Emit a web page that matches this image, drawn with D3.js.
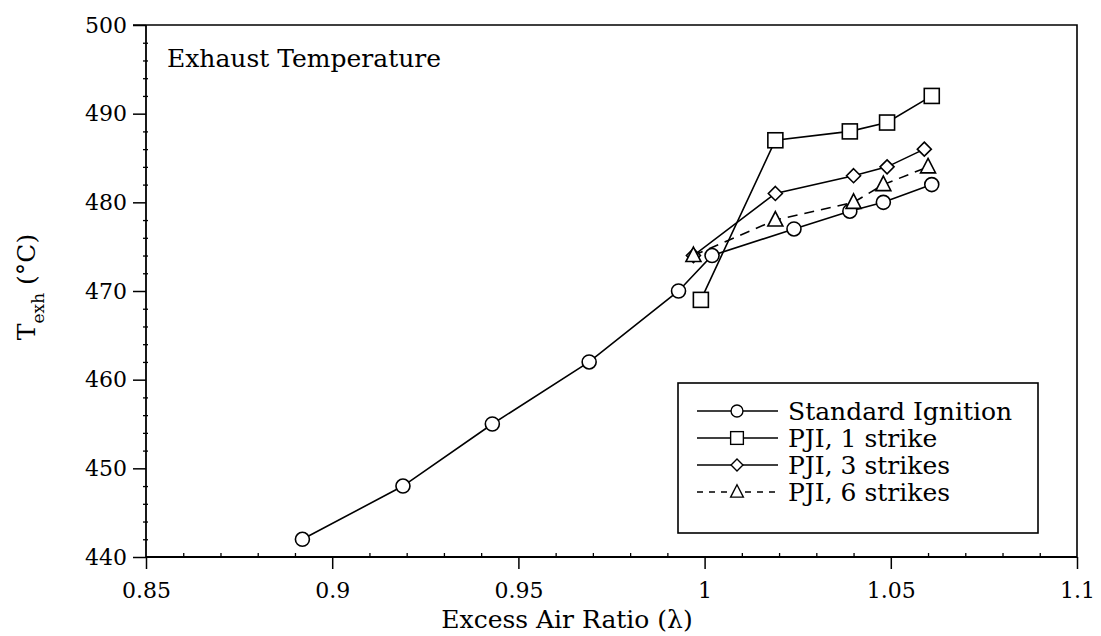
<!DOCTYPE html>
<html>
<head>
<meta charset="utf-8">
<script src="https://cdn.jsdelivr.net/npm/d3@7"></script>
<style>
  body { margin: 0; background: #fff; }
  text { font-family: "DejaVu Serif", serif; fill: #000; }
</style>
</head>
<body>
<svg id="chart" width="1101" height="636"></svg>
<script>
// data
var stdLambda = [0.892, 0.919, 0.943, 0.969, 0.993, 1.002, 1.024, 1.039, 1.048, 1.061];
var stdTemp   = [442, 448, 455, 462, 470, 474, 477, 479, 480, 482];

var s1Lambda = [0.999, 1.019, 1.039, 1.049, 1.061];
var s1Temp   = [469, 487, 488, 489, 492];

var s3Lambda = [0.997, 1.019, 1.040, 1.049, 1.059];
var s3Temp   = [474, 481, 483, 484, 486];

var s6Lambda = [0.997, 1.019, 1.040, 1.048, 1.060];
var s6Temp   = [474, 478, 480, 482, 484];

var seriesNames = ["Standard Ignition", "PJI, 1 strike", "PJI, 3 strikes", "PJI, 6 strikes"];
var xTicks = [0.85, 0.9, 0.95, 1, 1.05, 1.1];
var yTicks = [440, 450, 460, 470, 480, 490, 500];

// plot box (note: "top" is a reserved window name, so use pTop etc.)
var pLeft = 146, pRight = 1077, pTop = 25, pBottom = 557;

var svg = d3.select("#chart");

var x = d3.scaleLinear().domain([0.85, 1.1]).range([pLeft, pRight]);
var y = d3.scaleLinear().domain([440, 500]).range([pBottom, pTop]);

// frame (top and right, no ticks)
svg.append("path")
    .attr("d", "M" + (pLeft - 13) + "," + pTop + "H" + pRight + "V" + pBottom)
    .attr("fill", "none").attr("stroke", "#000").attr("stroke-width", 1.6);

// minor ticks
var xMinor = d3.range(0.85, 1.1001, 0.01).filter(function(v){ return Math.abs(v*20 - Math.round(v*20)) > 1e-6; });
var yMinor = d3.range(440, 500, 2).filter(function(v){ return v % 10 !== 0; });

svg.append("g").attr("transform", "translate(0," + pBottom + ")")
    .call(d3.axisTop(x).tickValues(xMinor).tickSize(4).tickFormat(""))
    .call(function(g){ g.select(".domain").remove(); })
    .selectAll("line").attr("stroke-width", 1.3);

svg.append("g").attr("transform", "translate(" + (pLeft + 2) + ",0)")
    .call(d3.axisLeft(y).tickValues(yMinor).tickSize(5).tickFormat(""))
    .call(function(g){ g.select(".domain").remove(); })
    .selectAll("line").attr("stroke-width", 1.3);

// major axes
var xAxis = svg.append("g").attr("transform", "translate(0," + pBottom + ")")
    .call(d3.axisBottom(x).tickValues(xTicks).tickSize(12).tickPadding(13)
        .tickFormat(function(d){ return String(+d.toFixed(2)); }));
xAxis.select(".domain").attr("d", "M" + pLeft + ",0H" + pRight).attr("stroke-width", 1.8);
xAxis.selectAll("line").attr("stroke-width", 1.5);
xAxis.selectAll("text").style("font-size", "22px").style("font-family", "DejaVu Serif");

var yAxis = svg.append("g").attr("transform", "translate(" + pLeft + ",0)")
    .call(d3.axisLeft(y).tickValues(yTicks).tickSize(13).tickPadding(6));
yAxis.select(".domain").attr("d", "M0," + pTop + "V" + pBottom).attr("stroke-width", 1.8);
yAxis.selectAll("line").attr("stroke-width", 1.5);
yAxis.selectAll("text").style("font-size", "22px").style("font-family", "DejaVu Serif");

// axis titles
svg.append("text").attr("x", 567).attr("y", 628).attr("text-anchor", "middle")
    .style("font-size", "25px").text("Excess Air Ratio (\u03bb)");

var yl = svg.append("text").attr("transform", "translate(35,287) rotate(-90)")
    .attr("text-anchor", "middle").style("font-size", "25px");
yl.append("tspan").text("T");
yl.append("tspan").attr("dy", 9).style("font-size", "17px").text("exh");
yl.append("tspan").attr("dy", -9).text(" (\u00b0C)");

svg.append("text").attr("x", 167).attr("y", 67).style("font-size", "25px").text("Exhaust Temperature");

// symbols
function symbol(g, kind) {
  if (kind === "circle") {
    g.append("circle").attr("r", 7);
  } else if (kind === "square") {
    g.append("rect").attr("x", -7.5).attr("y", -7.5).attr("width", 15).attr("height", 15);
  } else if (kind === "diamond") {
    g.append("path").attr("d", "M0,-7L7,0L0,7L-7,0Z");
  } else {
    g.append("path").attr("d", "M0,-8.5L7.5,6L-7.5,6Z");
  }
  g.selectAll("*").attr("fill", "#fff").attr("stroke", "#000").attr("stroke-width", 1.6);
}

var series = [
  { lam: stdLambda, t: stdTemp, kind: "circle", dash: null },
  { lam: s1Lambda, t: s1Temp, kind: "square", dash: null },
  { lam: s3Lambda, t: s3Temp, kind: "diamond", dash: null },
  { lam: s6Lambda, t: s6Temp, kind: "triangle", dash: "10,7" }
];

var line = d3.line().x(function(d){ return x(d[0]); }).y(function(d){ return y(d[1]); });

series.forEach(function(s) {
  var pts = s.lam.map(function(v, i){ return [v, s.t[i]]; });
  svg.append("path").datum(pts).attr("d", line)
      .attr("fill", "none").attr("stroke", "#000").attr("stroke-width", 1.6)
      .attr("stroke-dasharray", s.dash);
});
series.forEach(function(s) {
  s.lam.forEach(function(v, i) {
    var g = svg.append("g").attr("transform", "translate(" + x(v) + "," + y(s.t[i]) + ")");
    symbol(g, s.kind);
  });
});

// legend
var lg = svg.append("g");
lg.append("rect").attr("x", 678).attr("y", 383).attr("width", 360).attr("height", 150)
    .attr("fill", "#fff").attr("stroke", "#000").attr("stroke-width", 1.6);
series.forEach(function(s, i) {
  var cy = 411 + i * 27;
  lg.append("line").attr("x1", 697).attr("x2", 778).attr("y1", cy).attr("y2", cy)
      .attr("stroke", "#000").attr("stroke-width", 1.6)
      .attr("stroke-dasharray", s.dash ? "6,6" : null);
  var g = lg.append("g").attr("transform", "translate(737," + cy + ") scale(0.85)");
  symbol(g, s.kind);
  lg.append("text").attr("x", 788).attr("y", cy + 9).style("font-size", "25px").text(seriesNames[i]);
});
</script>
</body>
</html>
